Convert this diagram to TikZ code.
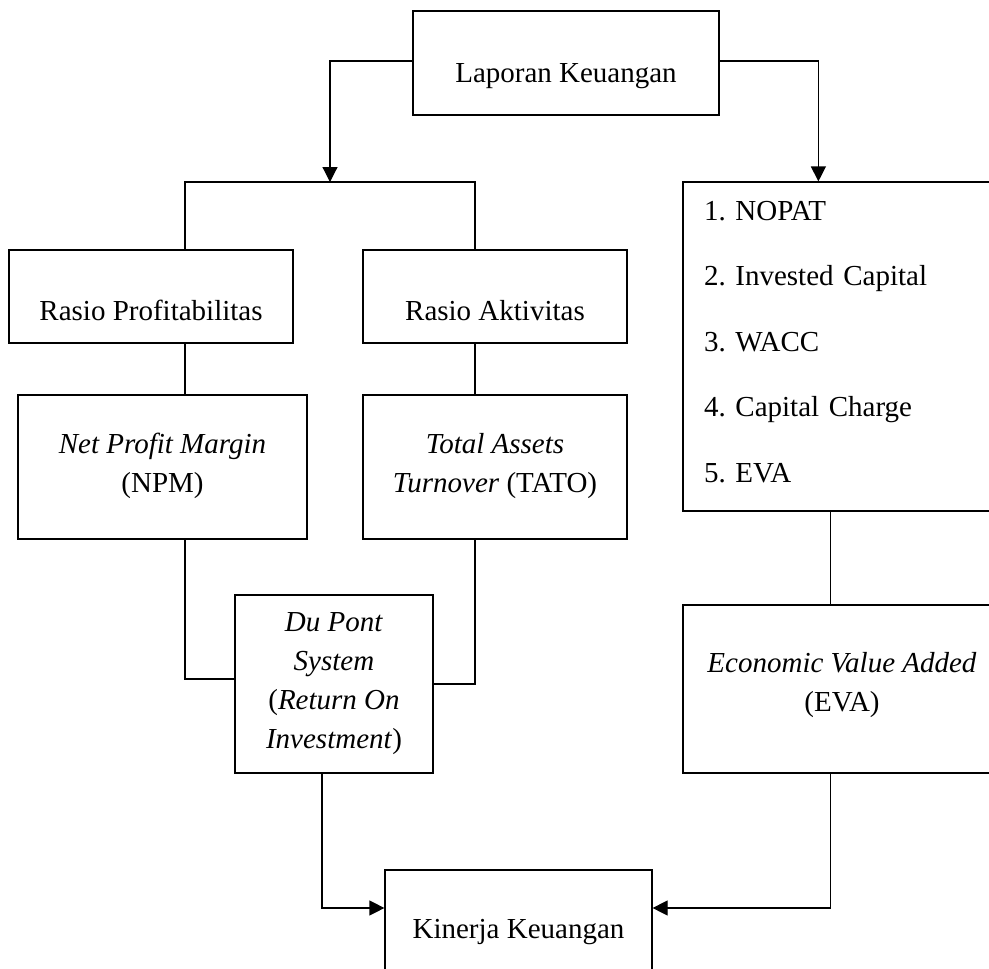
\documentclass[tikz,border=0pt]{standalone}
\usepackage{fontspec}
\setmainfont{Liberation Serif}
\usetikzlibrary{arrows.meta}

\begin{document}
\begin{tikzpicture}[x=1pt, y=-1pt, line width=1.2pt, >={Triangle[length=15pt,width=15pt]},
		box/.style={draw, font=\fontsize{29}{39}\selectfont, align=center},
		drop/.style={execute at begin node={\rule[-8pt]{0pt}{#1}}}]
			\useasboundingbox (0,0) rectangle (989,969);
			\node[box, minimum width=306pt, minimum height=104pt, drop=54pt] (lap) at (566,63) {Laporan Keuangan};
			\node[box, minimum width=284pt, minimum height=93pt, drop=63pt] (rp) at (151,296.5) {Rasio Profitabilitas};
			\node[box, minimum width=264pt, minimum height=93pt, drop=63pt] (ra) at (495,296.5) {Rasio Aktivitas};
			\node[box, minimum width=289pt, minimum height=144pt, drop=45pt] (npm) at (162.5,467) {\textit{Net Profit Margin}\\(NPM)};
			\node[box, minimum width=264pt, minimum height=144pt, drop=45pt] (tato) at (495,467) {\textit{Total Assets}\\\textit{Turnover} (TATO)};
			\node[box, minimum width=198pt, minimum height=178pt] (dup) at (334,684) {\textit{Du Pont}\\\textit{System}\\(\textit{Return On}\\\textit{Investment})};
			\node[draw, font=\fontsize{29}{65.5}\selectfont\frenchspacing, align=left, text width=276pt, inner xsep=21pt, minimum height=329pt] (lst) at (842,346.5) {1. NOPAT\\2. Invested Capital\\3. WACC\\4. Capital Charge\\5. EVA\rule[-10pt]{0pt}{0pt}};
			\node[box, minimum width=318pt, minimum height=168pt] (eva) at (842,689) {\textit{Economic Value Added}\\(EVA)\rule[-14pt]{0pt}{0pt}};
			\node[box, minimum width=267pt, minimum height=104pt, drop=48pt] (kin) at (518.5,922) {Kinerja Keuangan};
			\coordinate (jl) at (185,182);
			\coordinate (jm) at (330,182);
			\coordinate (jr) at (475,182);
			\draw[->] ([yshift=2pt]lap.west) -| (jm);
			\draw (rp.north -| jl) -- (jl) -- (jr) -- (ra.north -| jr);
			\draw (rp.south -| jl) -- (npm.north -| jl);
			\draw (ra.south -| jr) -- (tato.north -| jr);
			\draw (npm.south -| jl) |- ([yshift=5pt]dup.west);
			\draw (tato.south -| jr) |- (dup.east);
			\draw[->] ([xshift=-12pt]dup.south) |- ([yshift=14pt]kin.west);
			\draw[->] ([yshift=2pt]lap.east) -| ([xshift=136pt]lst.north west);
			\draw ([xshift=148pt]lst.south west) -- ([xshift=148pt]eva.north west);
			\draw[->] ([xshift=148pt]eva.south west) |- ([yshift=14pt]kin.east);
		\end{tikzpicture}
\end{document}
